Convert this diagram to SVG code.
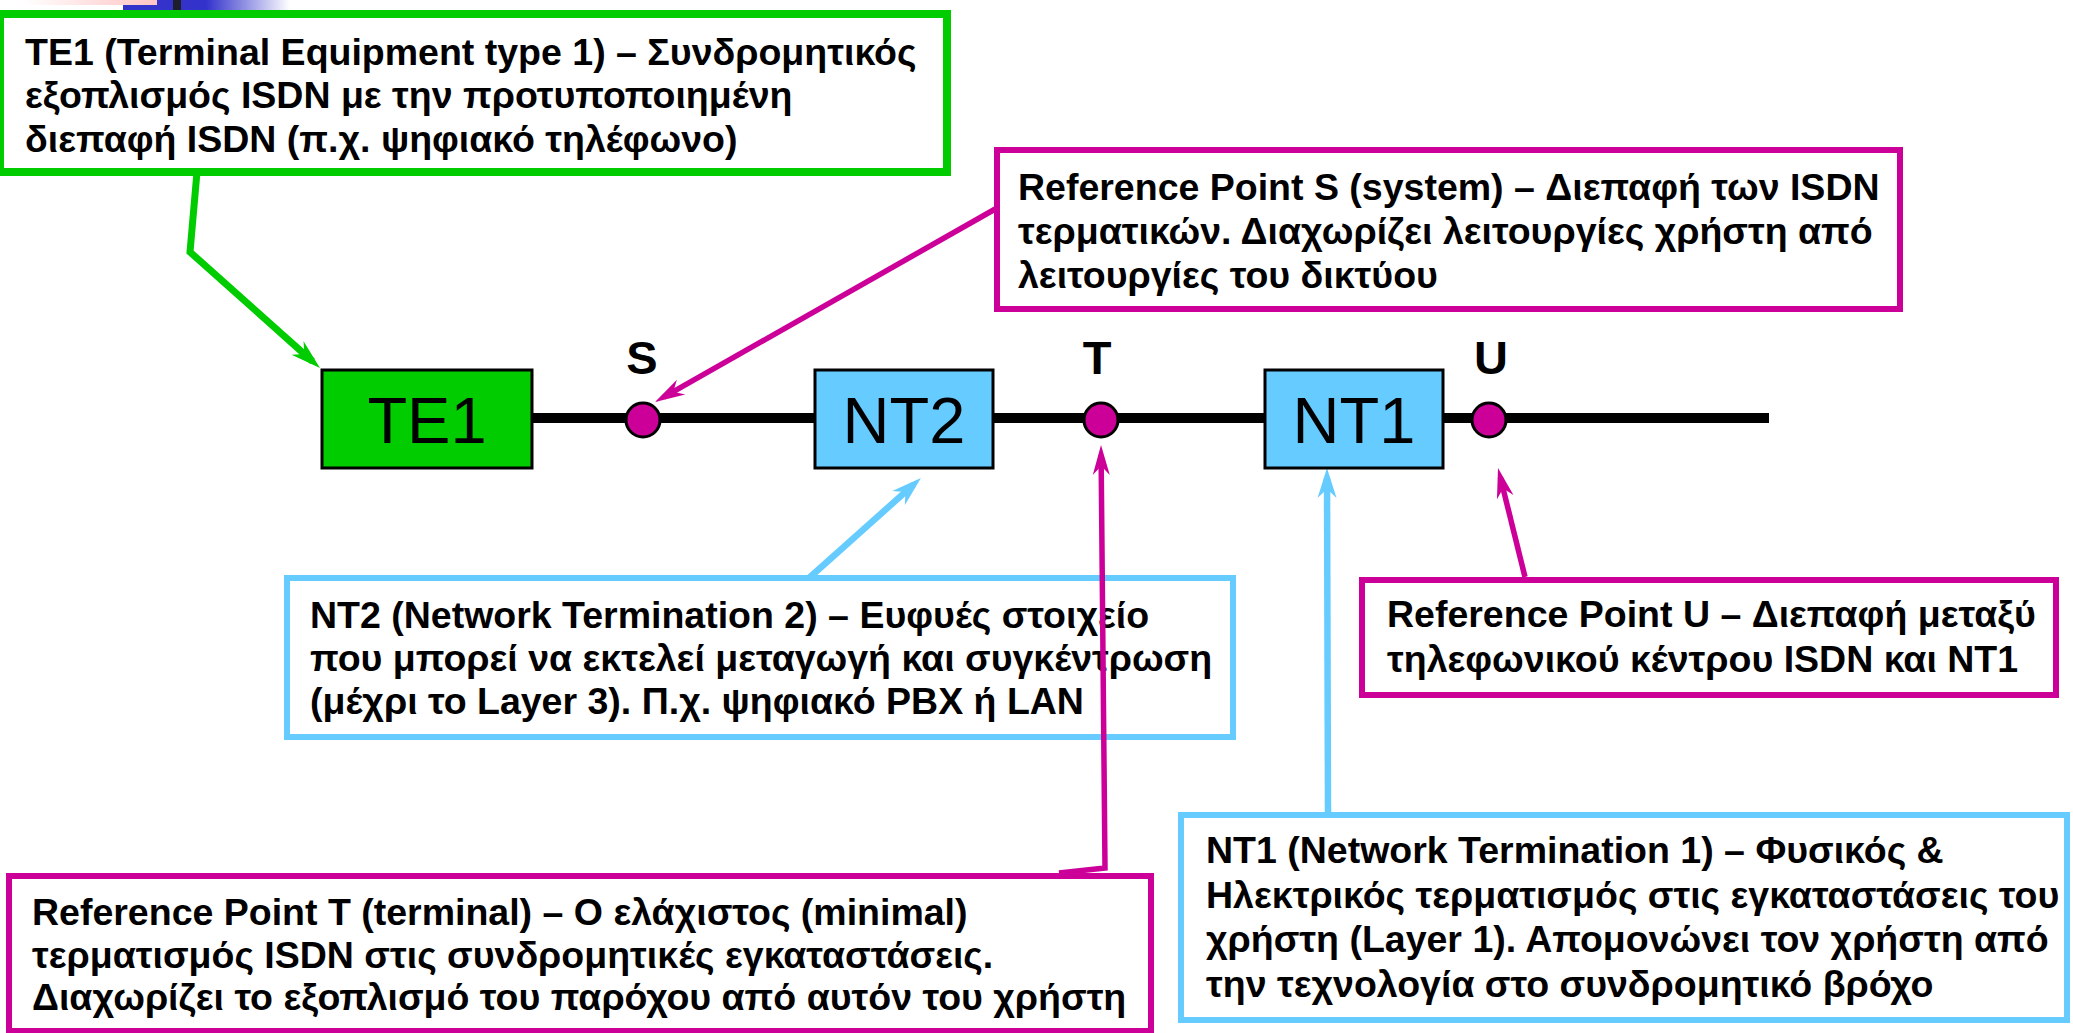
<svg xmlns="http://www.w3.org/2000/svg" width="2073" height="1033" viewBox="0 0 2073 1033">
<style>
.desc{font-family:"Liberation Sans",Arial,sans-serif;font-weight:bold;font-size:37.5px;fill:#000}
.lbl{font-family:"Liberation Sans",Arial,sans-serif;font-weight:bold;font-size:47px;fill:#000;text-anchor:middle}
.eq{font-family:"Liberation Sans",Arial,sans-serif;font-size:65px;fill:#000;text-anchor:middle}
.gbox{fill:none;stroke:#00CC00;stroke-width:8}
.mbox{fill:none;stroke:#CC0099;stroke-width:6}
.bbox{fill:none;stroke:#66CCFF;stroke-width:6}
.g{fill:none;stroke:#00CC00;stroke-width:7;stroke-linejoin:miter}
.m{fill:none;stroke:#CC0099;stroke-width:5.5;stroke-linejoin:miter}
.b{fill:none;stroke:#66CCFF;stroke-width:6.5}
.bus{fill:none;stroke:#000;stroke-width:10}
.rp{fill:#CC0099;stroke:#000;stroke-width:3}
</style>
<defs>
<linearGradient id="pinkg" x1="0" y1="0" x2="1" y2="0">
<stop offset="0.15" stop-color="#FFFFFF"/>
<stop offset="1" stop-color="#FFC4C4"/>
</linearGradient>
<linearGradient id="blueg" x1="0" y1="0" x2="1" y2="0">
<stop offset="0" stop-color="#3333CC"/>
<stop offset="0.37" stop-color="#3333CC"/>
<stop offset="1" stop-color="#FFFFFF"/>
</linearGradient>
<marker id="ag" markerUnits="userSpaceOnUse" markerWidth="60" markerHeight="60" refX="0" refY="0" orient="auto" overflow="visible"><path d="M10,0 L-20,-9 L-11,0 L-20,9 Z" fill="#00CC00"/></marker>
<marker id="am" markerUnits="userSpaceOnUse" markerWidth="60" markerHeight="60" refX="0" refY="0" orient="auto" overflow="visible"><path d="M10,0 L-20,-8.5 L-11,0 L-20,8.5 Z" fill="#CC0099"/></marker>
<marker id="ab" markerUnits="userSpaceOnUse" markerWidth="60" markerHeight="60" refX="0" refY="0" orient="auto" overflow="visible"><path d="M10,0 L-20,-9.5 L-11,0 L-20,9.5 Z" fill="#66CCFF"/></marker>
</defs>
<rect width="2073" height="1033" fill="#FFFFFF"/>
<g id="decoration">
<rect x="0" y="0" width="157" height="5" fill="url(#pinkg)"/>
<rect x="123" y="5" width="34" height="5" fill="#3333CC"/>
<rect x="157" y="0" width="133" height="10" fill="url(#blueg)"/>
<rect x="173" y="0" width="8" height="10" fill="#1E1E2A"/>
</g>
<g id="desc-te1">
<rect class="gbox" x="0" y="14" width="947" height="158"/>
<text class="desc" x="25" y="65">TE1 (Terminal Equipment type 1) – Συνδρομητικός</text>
<text class="desc" x="25" y="108">εξοπλισμός ISDN με την προτυποποιημένη</text>
<text class="desc" x="25" y="152">διεπαφή ISDN (π.χ. ψηφιακό τηλέφωνο)</text>
</g>
<g id="desc-s">
<rect class="mbox" x="997" y="150" width="903" height="159"/>
<text class="desc" x="1018" y="200">Reference Point S (system) – Διεπαφή των ISDN</text>
<text class="desc" x="1018" y="244">τερματικών. Διαχωρίζει λειτουργίες χρήστη από</text>
<text class="desc" x="1018" y="288">λειτουργίες του δικτύου</text>
</g>
<g id="desc-nt2">
<rect class="bbox" x="287" y="578" width="946" height="159"/>
<text class="desc" x="310" y="628">NT2 (Network Termination 2) – Ευφυές στοιχείο</text>
<text class="desc" x="310" y="671">που μπορεί να εκτελεί μεταγωγή και συγκέντρωση</text>
<text class="desc" x="310" y="714">(μέχρι το Layer 3). Π.χ. ψηφιακό PBX ή LAN</text>
</g>
<g id="desc-u">
<rect class="mbox" x="1362" y="580" width="694" height="115"/>
<text class="desc" x="1387" y="627">Reference Point U – Διεπαφή μεταξύ</text>
<text class="desc" x="1387" y="672">τηλεφωνικού κέντρου ISDN και NT1</text>
</g>
<g id="desc-nt1">
<rect class="bbox" x="1181" y="815" width="886" height="205"/>
<text class="desc" x="1206" y="863">NT1 (Network Termination 1) – Φυσικός &amp;</text>
<text class="desc" x="1206" y="908">Ηλεκτρικός τερματισμός στις εγκαταστάσεις του</text>
<text class="desc" x="1206" y="952">χρήστη (Layer 1). Απομονώνει τον χρήστη από</text>
<text class="desc" x="1206" y="997">την τεχνολογία στο συνδρομητικό βρόχο</text>
</g>
<g id="desc-t">
<rect class="mbox" x="9" y="876" width="1142" height="155"/>
<text class="desc" x="32" y="925">Reference Point T (terminal) – Ο ελάχιστος (minimal)</text>
<text class="desc" x="32" y="968">τερματισμός ISDN στις συνδρομητικές εγκαταστάσεις.</text>
<text class="desc" x="32" y="1010">Διαχωρίζει το εξοπλισμό του παρόχου από αυτόν του χρήστη</text>
</g>
<g id="connectors">
<line class="bus" x1="530" y1="418" x2="1769" y2="418"/>
<polyline class="g" points="197,172 190,252 312.5,361.3" marker-end="url(#ag)"/>
<polyline class="m" points="997,208 663.7,397.1" marker-end="url(#am)"/>
<polyline class="m" points="1059,873 1105,868 1101.1,455" marker-end="url(#am)"/>
<polyline class="b" points="809,578 913.5,484.7" marker-end="url(#ab)"/>
<polyline class="b" points="1328,815 1327,478" marker-end="url(#ab)"/>
<polyline class="m" points="1525,577 1500.4,477.7" marker-end="url(#am)"/>
</g>
<g id="node-te1">
<rect x="322" y="370" width="210" height="98" fill="#00CC00" stroke="#000" stroke-width="3"/>
<text class="eq" x="427" y="443">TE1</text>
</g>
<g id="node-nt2">
<rect x="815" y="370" width="178" height="98" fill="#66CCFF" stroke="#000" stroke-width="3"/>
<text class="eq" x="904" y="443">NT2</text>
</g>
<g id="node-nt1">
<rect x="1265" y="370" width="178" height="98" fill="#66CCFF" stroke="#000" stroke-width="3"/>
<text class="eq" x="1354" y="443">NT1</text>
</g>
<g id="point-s">
<circle class="rp" cx="643" cy="420" r="17"/>
<text class="lbl" x="642" y="374">S</text>
</g>
<g id="point-t">
<circle class="rp" cx="1101" cy="420" r="17"/>
<text class="lbl" x="1097" y="374">T</text>
</g>
<g id="point-u">
<circle class="rp" cx="1489" cy="420" r="17"/>
<text class="lbl" x="1491" y="374">U</text>
</g>
</svg>
